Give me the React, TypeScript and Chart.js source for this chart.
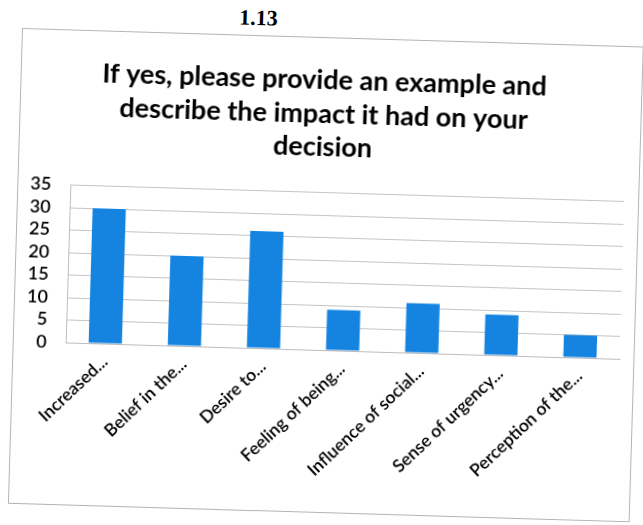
import React, { useEffect, useRef } from "react";
import { Chart, registerables } from "chart.js";

Chart.register(...registerables);

const pageLabel = "1.13";
const titleLines = [
  "If yes, please provide an example and",
  "describe the impact it had on your",
  "decision",
];
const categories = [
  "Increased...",
  "Belief in the...",
  "Desire to...",
  "Feeling of being...",
  "Influence of social...",
  "Sense of urgency...",
  "Perception of the...",
];
const counts = [30, 20, 26, 9, 11, 9, 5];
const yMin = 0;
const yMax = 35;
const yStep = 5;

export default function App() {
  const ref = useRef<HTMLCanvasElement>(null);

  useEffect(() => {
    const chart = new Chart(ref.current as HTMLCanvasElement, {
      type: "bar",
      data: {
        labels: categories,
        datasets: [
          {
            data: counts,
            backgroundColor: "#1584E0",
            barPercentage: 0.42,
            categoryPercentage: 1,
          },
        ],
      },
      options: {
        animation: false,
        responsive: false,
        maintainAspectRatio: false,
        layout: { padding: { left: 0, right: 14, top: 0, bottom: 0 } },
        plugins: {
          legend: { display: false },
          tooltip: { enabled: false },
          title: {
            display: true,
            text: titleLines,
            color: "#000",
            font: { family: "Lato", size: 27, weight: "bold", lineHeight: 1.23 },
            padding: { top: 26, bottom: 29 },
          },
        },
        scales: {
          x: {
            grid: { display: false, drawTicks: false },
            border: { display: true, color: "#bdbdbd" },
            ticks: {
              autoSkip: false,
              maxRotation: 45,
              minRotation: 45,
              padding: 8,
              color: "#000",
              font: { family: "Lato", size: 17.5, weight: "600" },
            },
            afterFit: (s: any) => {
              s.height = 162;
            },
          },
          y: {
            min: yMin,
            max: yMax,
            ticks: {
              stepSize: yStep,
              autoSkip: false,
              padding: 19,
              color: "#000",
              font: { family: "Lato", size: 18, weight: "600", lineHeight: 1 },
            },
            grid: { color: "#c4c4c4", drawTicks: false },
            border: { display: true, color: "#bdbdbd" },
            afterFit: (s: any) => {
              s.width = 52;
            },
          },
        },
      },
    });
    return () => chart.destroy();
  }, []);

  return (
    <div
      style={{
        position: "fixed",
        left: 0,
        top: 0,
        width: 643,
        height: 525,
        background: "#fff",
        overflow: "hidden",
      }}
    >
      <div
        style={{
          position: "absolute",
          left: 22,
          top: 28,
          width: 622,
          height: 476,
          transform: "rotate(1.7deg)",
          transformOrigin: "0 0",
        }}
      >
        <div
          style={{
            position: "absolute",
            left: 0,
            top: 0,
            width: 622,
            height: 476,
            border: "1px solid #b5b5b5",
            boxSizing: "border-box",
          }}
        >
          <canvas
            ref={ref}
            width={620}
            height={474}
            style={{ position: "absolute", left: 0, top: 0, width: 620, height: 474 }}
          />
        </div>
        <div
          style={{
            position: "absolute",
            left: 196,
            top: -29,
            width: 80,
            textAlign: "center",
            lineHeight: "24px",
            fontFamily: '"Liberation Serif", serif',
            fontWeight: "bold",
            fontSize: 22,
            color: "#000",
          }}
        >
          {pageLabel}
        </div>
      </div>
    </div>
  );
}
